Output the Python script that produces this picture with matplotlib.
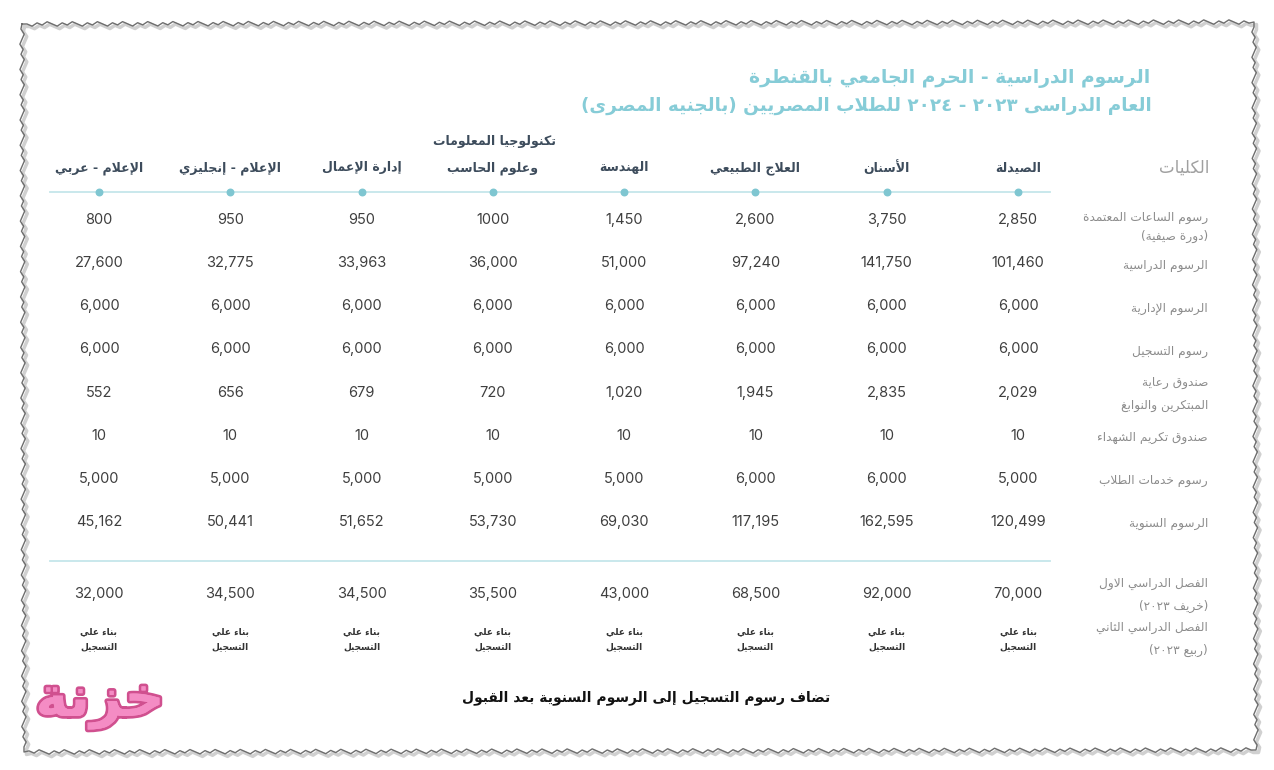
import matplotlib
matplotlib.use("Agg")
import matplotlib.pyplot as plt
import matplotlib.patheffects as pe
import numpy as np

# ---------------- data ----------------
title_lines = ["الرسوم الدراسية - الحرم الجامعي بالقنطرة",
               "العام الدراسى ٢٠٢٣ - ٢٠٢٤ للطلاب المصريين (بالجنيه المصرى)"]
header_label = "الكليات"
faculties = [["الصيدلة"], ["الأسنان"], ["العلاج الطبيعي"], ["الهندسة"],
             ["تكنولوجيا المعلومات", "وعلوم الحاسب"], ["إدارة الإعمال"],
             ["الإعلام - إنجليزي"], ["الإعلام - عربي"]]
row_labels = [["رسوم الساعات المعتمدة", "(دورة صيفية)"],
              ["الرسوم الدراسية"],
              ["الرسوم الإدارية"],
              ["رسوم التسجيل"],
              ["صندوق رعاية", "المبتكرين والنوابغ"],
              ["صندوق تكريم الشهداء"],
              ["رسوم خدمات الطلاب"],
              ["الرسوم السنوية"]]
credit_hours = ["2,850", "3,750", "2,600", "1,450", "1000", "950", "950", "800"]
tuition = [101460, 141750, 97240, 51000, 36000, 33963, 32775, 27600]
admin_fees = [6000, 6000, 6000, 6000, 6000, 6000, 6000, 6000]
registration = [6000, 6000, 6000, 6000, 6000, 6000, 6000, 6000]
innovators_fund = [2029, 2835, 1945, 1020, 720, 679, 656, 552]
martyrs_fund = [10, 10, 10, 10, 10, 10, 10, 10]
student_services = [5000, 6000, 6000, 5000, 5000, 5000, 5000, 5000]
annual_fees = [120499, 162595, 117195, 69030, 53730, 51652, 50441, 45162]
semester_labels = [["الفصل الدراسي الاول", "(خريف ٢٠٢٣)"],
                   ["الفصل الدراسي الثاني", "(ربيع ٢٠٢٣)"]]
first_semester = [70000, 92000, 68500, 43000, 35500, 34500, 34500, 32000]
second_semester = ["بناء علي", "التسجيل"]
footer = "تضاف رسوم التسجيل إلى الرسوم السنوية بعد القبول"
logo = "خزنة"

# ---------------- Arabic shaping ----------------
_DUAL = {'ئ': 0xFE89, 'ب': 0xFE8F, 'ت': 0xFE95, 'ث': 0xFE99, 'ج': 0xFE9D,
         'ح': 0xFEA1, 'خ': 0xFEA5, 'س': 0xFEB1, 'ش': 0xFEB5, 'ص': 0xFEB9,
         'ض': 0xFEBD, 'ط': 0xFEC1, 'ظ': 0xFEC5, 'ع': 0xFEC9, 'غ': 0xFECD,
         'ف': 0xFED1, 'ق': 0xFED5, 'ك': 0xFED9, 'ل': 0xFEDD, 'م': 0xFEE1,
         'ن': 0xFEE5, 'ه': 0xFEE9, 'ي': 0xFEF1}
_RIGHT = {'آ': 0xFE81, 'أ': 0xFE83, 'ؤ': 0xFE85, 'إ': 0xFE87, 'ا': 0xFE8D,
          'ة': 0xFE93, 'د': 0xFEA9, 'ذ': 0xFEAB, 'ر': 0xFEAD, 'ز': 0xFEAF,
          'و': 0xFEED, 'ى': 0xFEEF}
_NONE = {'ء': 0xFE80}
_LAMALEF = {'آ': 0xFEF5, 'أ': 0xFEF7, 'إ': 0xFEF9, 'ا': 0xFEFB}


def _joins(c):
    return c in _DUAL or c in _RIGHT


def shape(s):
    out = []
    i = 0
    n = len(s)
    while i < n:
        c = s[i]
        prev = s[i - 1] if i > 0 else ''
        conn_prev = prev in _DUAL
        if c == 'ل' and i + 1 < n and s[i + 1] in _LAMALEF:
            base = _LAMALEF[s[i + 1]]
            out.append(chr(base + (1 if conn_prev else 0)))
            i += 2
            continue
        nxt = s[i + 1] if i + 1 < n else ''
        if c in _DUAL:
            conn_next = _joins(nxt)
            if conn_prev and conn_next:
                out.append(chr(_DUAL[c] + 3))
            elif conn_prev:
                out.append(chr(_DUAL[c] + 1))
            elif conn_next:
                out.append(chr(_DUAL[c] + 2))
            else:
                out.append(chr(_DUAL[c]))
        elif c in _RIGHT:
            out.append(chr(_RIGHT[c] + (1 if conn_prev else 0)))
        elif c in _NONE:
            out.append(chr(_NONE[c]))
        else:
            out.append(c)
        i += 1
    return ''.join(out)


def _is_ltr(c):
    return c.isdigit() or ('a' <= c.lower() <= 'z')


def ar(s):
    s = shape(s)
    runs = []
    buf = ''
    mode = None
    for idx, c in enumerate(s):
        m = 'L' if (_is_ltr(c) or (c in ',.' and buf and mode == 'L'
                                    and idx + 1 < len(s) and _is_ltr(s[idx + 1]))) else 'R'
        if m != mode and buf:
            runs.append((mode, buf))
            buf = ''
        mode = m
        buf += c
    if buf:
        runs.append((mode, buf))
    mirror = {'(': ')', ')': '('}
    res = []
    for m, b in reversed(runs):
        if m == 'L':
            res.append(b)
        else:
            res.append(''.join(mirror.get(ch, ch) for ch in reversed(b)))
    return ''.join(res)


# ---------------- figure ----------------
AR = ['DejaVu Sans']
NUM = ['Inter', 'DejaVu Sans']

fig = plt.figure(figsize=(12.74, 7.70), dpi=100)
ax = fig.add_axes([0, 0, 1, 1])
ax.set_xlim(0, 1274)
ax.set_ylim(770, 0)
ax.axis('off')

# torn-paper frame (decoration)
def jag(x0, y0, x1, y1, step=5, amp=2.2):
    L = np.hypot(x1 - x0, y1 - y0)
    k = max(int(L / step), 2)
    t = np.linspace(0, 1, k)
    nx, ny = -(y1 - y0) / L, (x1 - x0) / L
    off = amp * np.array([((j * 7) % 5 - 2) / 2.0 for j in range(k)])
    off[0] = off[-1] = 0
    return x0 + t * (x1 - x0) + nx * off, y0 + t * (y1 - y0) + ny * off

corners = [(22, 24), (1254, 22), (1256, 750), (24, 752), (22, 24)]
xs, ys = [], []
for (a, b), (c, d) in zip(corners[:-1], corners[1:]):
    jx, jy = jag(a, b, c, d)
    xs.extend(jx); ys.extend(jy)
ax.plot(np.array(xs) + 2.5, np.array(ys) + 2.5, color='#d0d0d0', lw=2.5, zorder=1)
ax.plot(xs, ys, color='#6e6e6e', lw=1.0, zorder=2)

# title
title_color = '#86ccd7'
ax.text(1150, 79, ar(title_lines[0]), ha='right', va='center', fontsize=13.5,
        fontweight='bold', color=title_color, family=AR)
ax.text(1152, 106, ar(title_lines[1]), ha='right', va='center', fontsize=13.2,
        fontweight='bold', color=title_color, family=AR)

col_x = np.linspace(1018, 99, len(faculties))
row_y = np.linspace(220, 522, len(row_labels))

# header
hdr_kw = dict(fontsize=9, fontweight='bold', color='#3d4c5c', family=AR, va='center')
ax.text(1184, 168, ar(header_label), ha='center', va='center', fontsize=12,
        color='#a0a0a0', family=AR)
for x, name in zip(col_x, faculties):
    if len(name) == 1:
        ax.text(x, 168, ar(name[0]), ha='center', **hdr_kw)
    else:
        ax.text(x + 63, 142, ar(name[0]), ha='right', **hdr_kw)
        ax.text(x, 168, ar(name[1]), ha='center', **hdr_kw)

ax.plot([50, 1050], [192, 192], color='#c5e6ea', lw=1.3, zorder=2)
ax.scatter(col_x, [192] * len(col_x), s=22, color='#7fc6d1', zorder=3)

# body rows
lab_kw = dict(ha='right', va='center', fontsize=8.7, color='#8c8c8c', family=AR)
val_kw = dict(ha='center', va='center', fontsize=10.5, color='#3f3f3f', family=NUM)
rows = [credit_hours, tuition, admin_fees, registration, innovators_fund,
        martyrs_fund, student_services, annual_fees]
label_offsets = {0: [-3, 16], 4: [-10, 13]}
for r, (y, vals, lab) in enumerate(zip(row_y, rows, row_labels)):
    for x, v in zip(col_x, vals):
        txt = v if isinstance(v, str) else f"{v:,}"
        ax.text(x, y, txt, **val_kw)
    if len(lab) == 1:
        ax.text(1208, y + 2, ar(lab[0]), **lab_kw)
    else:
        for t, o in zip(lab, label_offsets[r]):
            ax.text(1208, y + o, ar(t), **lab_kw)

ax.plot([50, 1050], [561, 561], color='#c5e6ea', lw=1.3, zorder=2)

# semesters
for x, v in zip(col_x, first_semester):
    ax.text(x, 594, f"{v:,}", **val_kw)
    ax.text(x, 632, ar(second_semester[0]), ha='center', va='center',
            fontsize=6.5, fontweight='bold', color='#333333', family=AR)
    ax.text(x, 647, ar(second_semester[1]), ha='center', va='center',
            fontsize=6.5, fontweight='bold', color='#333333', family=AR)

sem_y = [[584, 606], [628, 650]]
for lab, ys_ in zip(semester_labels, sem_y):
    for t, yy in zip(lab, ys_):
        ax.text(1208, yy, ar(t), **lab_kw)

# footer
ax.text(646, 698, ar(footer), ha='center', va='center', fontsize=10,
        fontweight='bold', color='#111111', family=AR)

# logo watermark
ax.text(100, 703, ar(logo), ha='center', va='center', fontsize=40,
        fontweight='bold', color='#f48cc4', family=AR,
        path_effects=[pe.withStroke(linewidth=4, foreground='#d0508f'),
                      pe.Normal()])

fig.savefig('out.png', dpi=100, facecolor='white')
